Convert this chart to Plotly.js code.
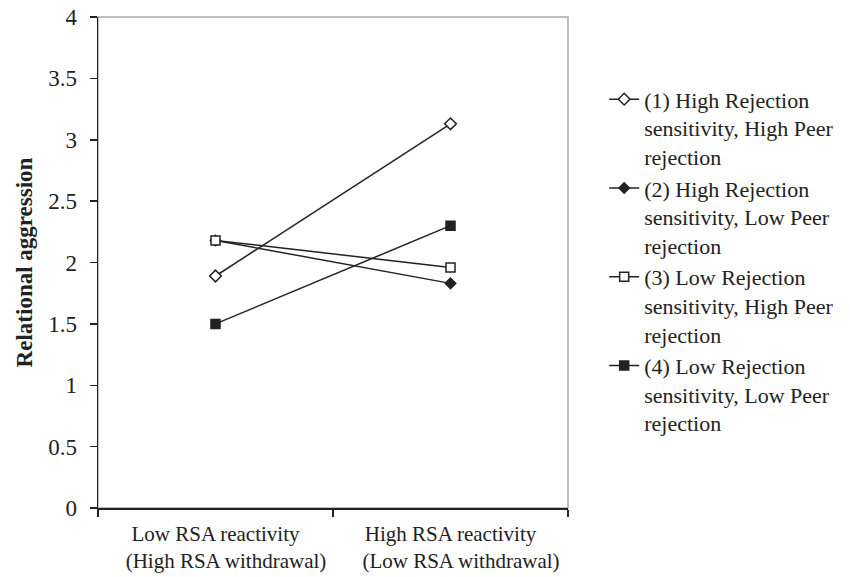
<!DOCTYPE html>
<html>
<head>
<meta charset="utf-8">
<script src="https://cdn.plot.ly/plotly-3.0.1.min.js"></script>
<style>html,body{margin:0;padding:0;background:#fff;}#chart{width:850px;height:577px;}</style>
</head>
<body>
<div id="chart"></div>
<script>
var categories = ["Low RSA reactivity<br>&nbsp;&nbsp;&nbsp;&nbsp;(High RSA withdrawal)", "High RSA reactivity<br>&nbsp;&nbsp;&nbsp;&nbsp;(Low RSA withdrawal)"];
var seriesNames = [
  "(1) High Rejection<br>sensitivity, High Peer<br>rejection",
  "(2) High Rejection<br>sensitivity, Low Peer<br>rejection",
  "(3) Low Rejection<br>sensitivity, High Peer<br>rejection",
  "(4) Low Rejection<br>sensitivity, Low Peer<br>rejection"
];
var s1 = [1.89, 3.13];
var s2 = [2.18, 1.83];
var s3 = [2.18, 1.96];
var s4 = [1.50, 2.30];
var yTicks = [0, 0.5, 1, 1.5, 2, 2.5, 3, 3.5, 4];
var yTickText = ["0", "0.5", "1", "1.5", "2", "2.5", "3", "3.5", "4"];

var ink = "#222";
function tr(name, y, symbol, fill, size) {
  return {
    type: "scatter", mode: "lines+markers", name: name,
    x: categories, y: y,
    line: {color: ink, width: 1.5},
    marker: {symbol: symbol, size: size, color: fill, line: {color: ink, width: 1.5}}
  };
}
var data = [
  tr(seriesNames[0], s1, "diamond", "#fff", 9),
  tr(seriesNames[1], s2, "diamond", ink, 8),
  tr(seriesNames[2], s3, "square", "#fff", 9),
  tr(seriesNames[3], s4, "square", ink, 9)
];
var font = "'Liberation Serif', 'Times New Roman', serif";
var layout = {
  width: 850, height: 577,
  margin: {l: 98, r: 282, t: 17, b: 69, autoexpand: false},
  paper_bgcolor: "#fff", plot_bgcolor: "#fff",
  font: {family: font, color: ink, size: 22},
  showlegend: true,
  legend: {x: 1.077, xanchor: "left", y: 0.875, yanchor: "top", valign: "top",
    font: {family: font, size: 22, color: ink}, tracegroupgap: 3, itemclick: false},
  xaxis: {
    type: "category", range: [-0.5, 1.5], tickson: "boundaries", tickangle: 0,
    ticks: "outside", ticklen: 7, tickcolor: ink, tickwidth: 1.5,
    showline: true, linecolor: ink, linewidth: 1.5, automargin: false,
    showgrid: false, zeroline: false, ticklabelstandoff: 6,
    tickfont: {family: font, size: 21, color: ink}
  },
  yaxis: {
    range: [0, 4], tickvals: yTicks, ticktext: yTickText, automargin: false,
    ticks: "outside", ticklen: 7, tickcolor: ink, tickwidth: 1.5,
    showline: true, linecolor: ink, linewidth: 1.5,
    showgrid: false, zeroline: false, ticklabelstandoff: 8,
    tickfont: {family: font, size: 23, color: ink},
    title: {text: "<b>Relational aggression</b>", font: {family: font, size: 23, color: ink}, standoff: 9}
  },
  shapes: [{type: "rect", xref: "paper", yref: "paper", x0: 0, x1: 1, y0: 0, y1: 1,
    line: {color: "#aaa", width: 1.5}, layer: "below"}]
};
Plotly.newPlot("chart", data, layout, {displayModeBar: false, staticPlot: true});
</script>
</body>
</html>
